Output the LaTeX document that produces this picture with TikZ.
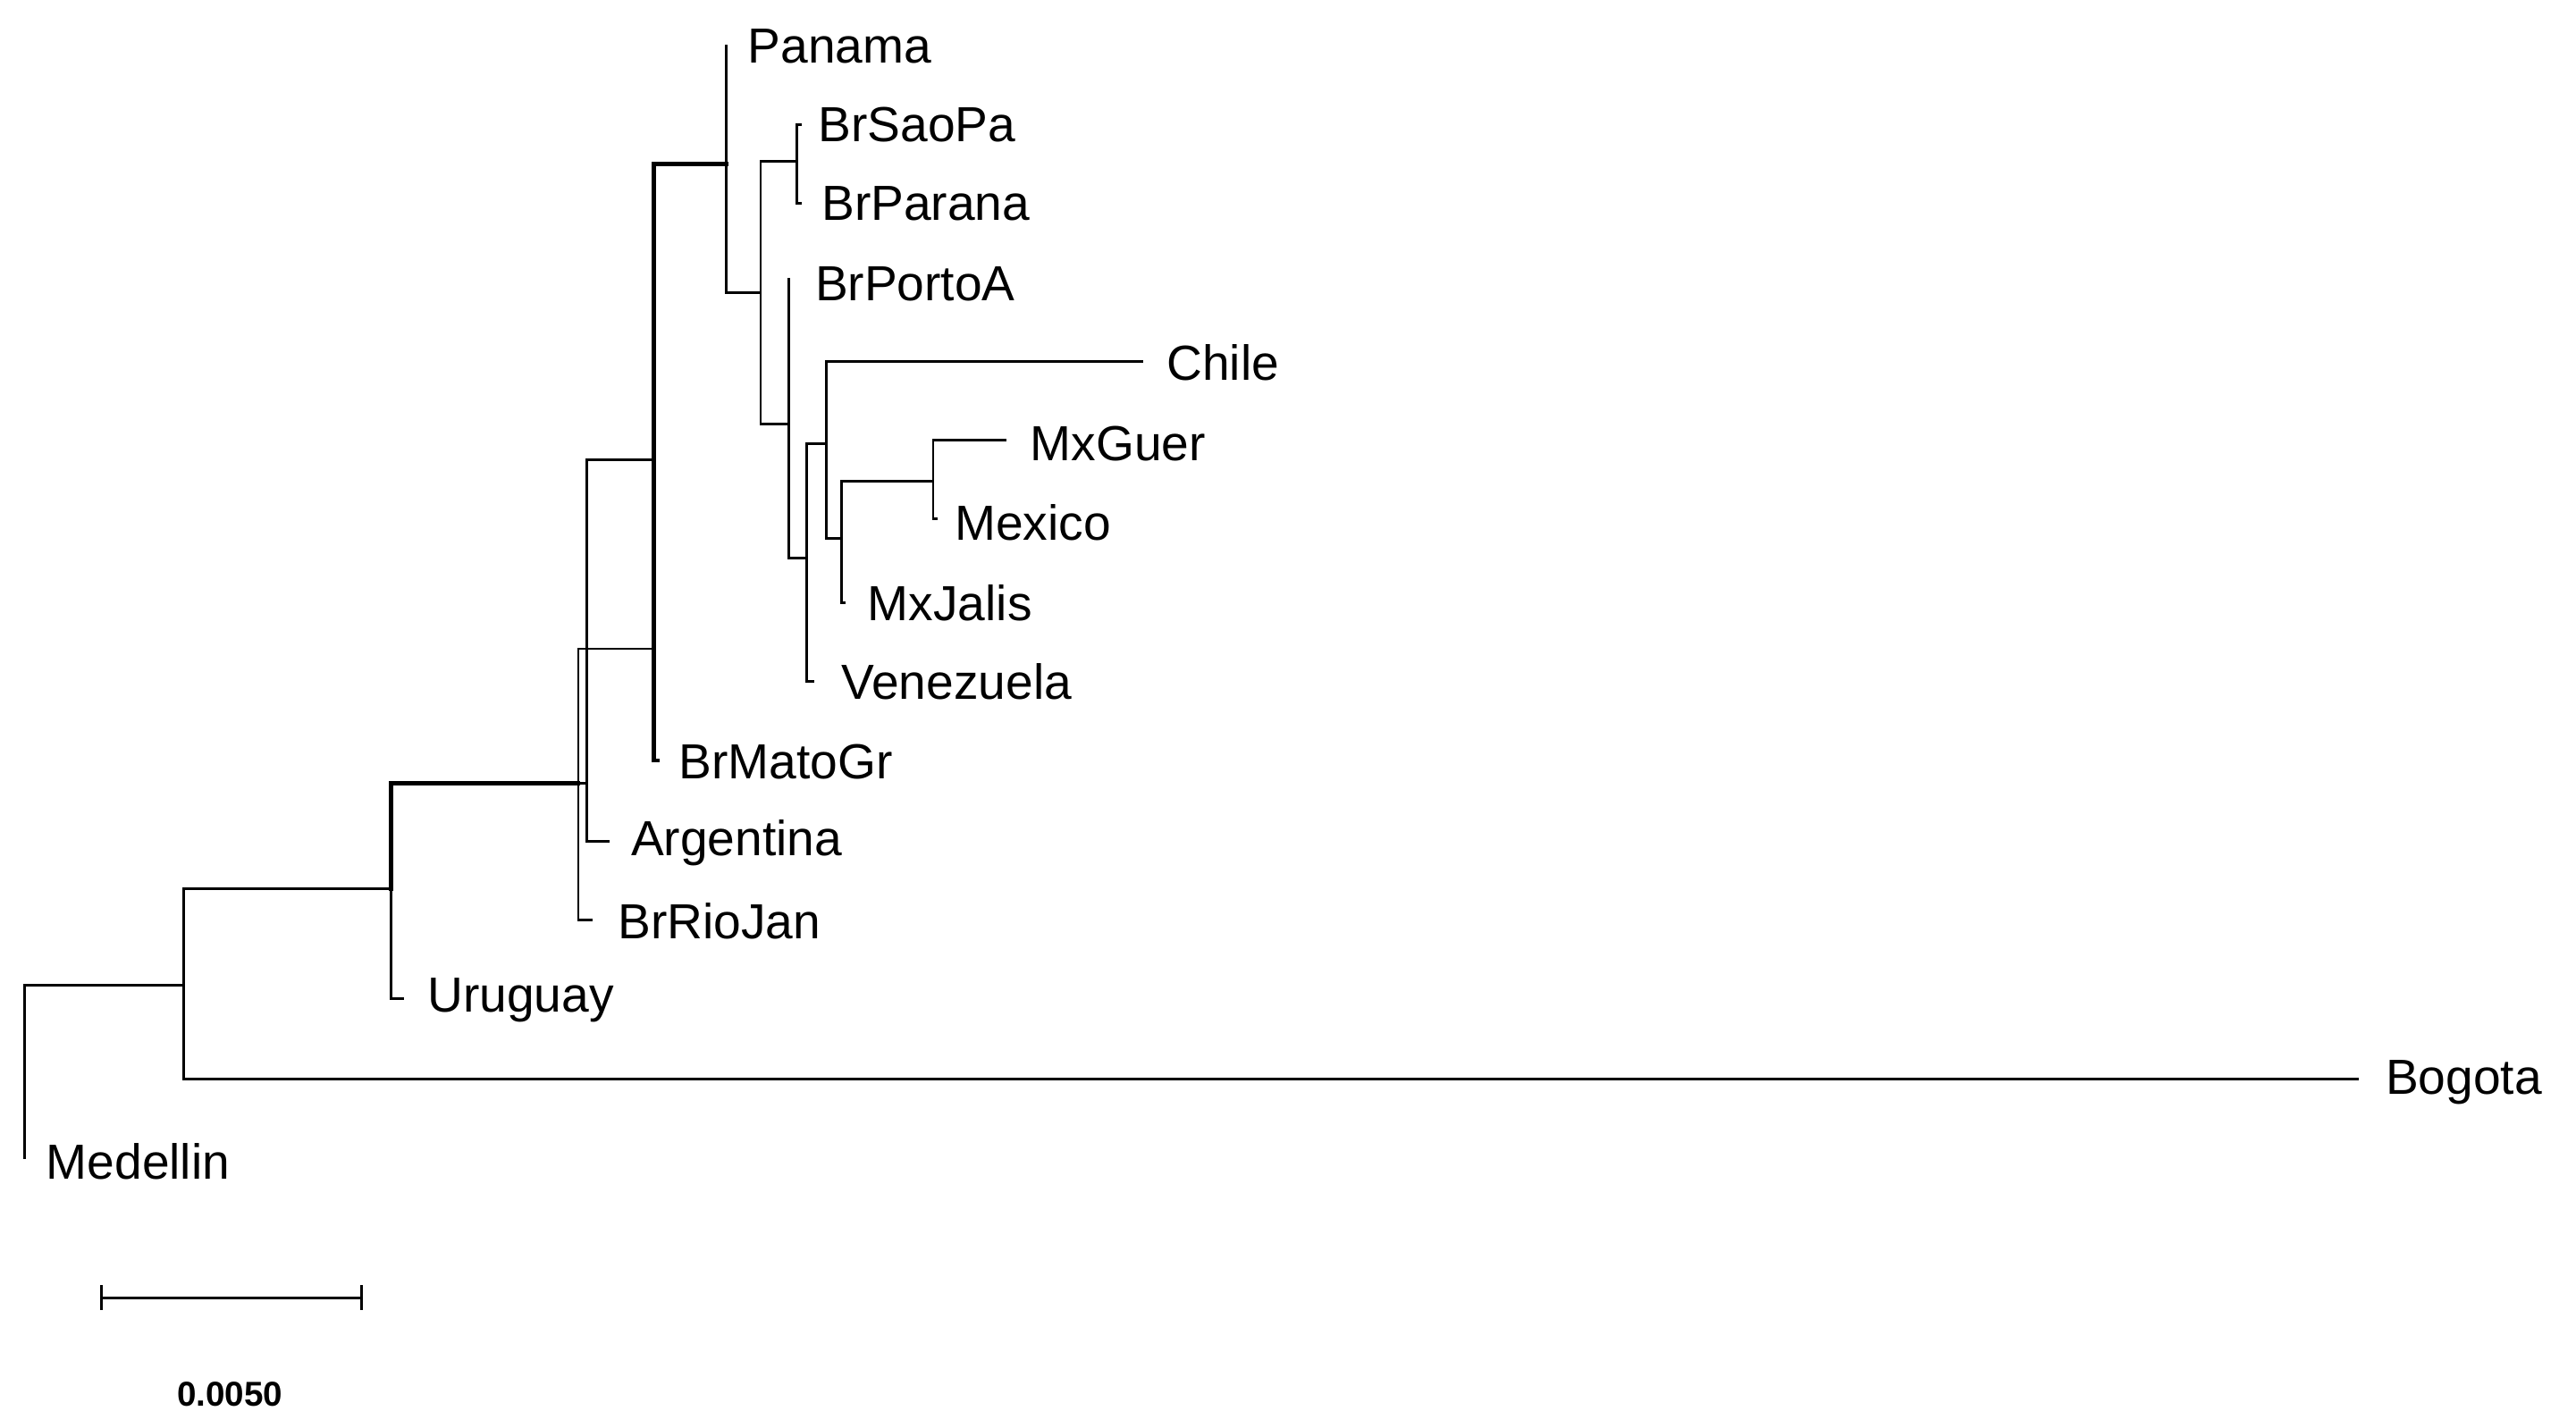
\documentclass[tikz,border=0pt]{standalone}
\usepackage{fontspec}
\setmainfont{Liberation Sans}
\begin{document}
\begin{tikzpicture}[x=1pt,y=-1pt,
  br/.style={line width=1.6pt,line cap=rect},
  thk/.style={line width=2.6pt},
  lab/.style={anchor=west,inner sep=0pt,font=\fontsize{30}{36}\selectfont}]
\useasboundingbox (0,0) rectangle (1568,869.4);
% internal nodes
\coordinate (R) at (15,600); \coordinate (A) at (112,600);
\coordinate (B) at (238,541); \coordinate (C) at (352,477);
\coordinate (D) at (357,477); \coordinate (E) at (398,280);
\coordinate (F) at (442,100); \coordinate (G) at (463,178);
\coordinate (H) at (485,98); \coordinate (I) at (480,258);
\coordinate (J) at (491,340); \coordinate (K) at (503,270);
\coordinate (L) at (512,328); \coordinate (M) at (568,293);
% tips
\coordinate (tMed) at (15,705); \coordinate (tBog) at (1435,657);
\coordinate (tUru) at (245,608); \coordinate (tRio) at (360,560);
\coordinate (tArg) at (370,512); \coordinate (tMat) at (400,463);
\coordinate (tPan) at (442,28); \coordinate (tSao) at (487,76);
\coordinate (tPar) at (487,124); \coordinate (tPor) at (480,170);
\coordinate (tVen) at (495,415); \coordinate (tChi) at (695,220);
\coordinate (tJal) at (514,367); \coordinate (tGue) at (612,268);
\coordinate (tMex) at (570,316);
% branches
\draw[br] (tMed) -- (R) -- (A);
\draw[br] (tBog) -| (A) |- (B);
\draw[br] (tUru) -| (B);
\draw[br,thk] (B) |- (C);
\draw[br] (tRio) -| (C) |- (E |- 0,395);
\draw[br] (C) -- (D);
\draw[br] (tArg) -| (D) |- (E);
\draw[br,thk] (tMat) -| (E) |- (F);
\draw[br] (tPan) -- (F) |- (G);
\draw[br] (G) |- (H); \draw[br] (tSao) -| (H) |- (tPar);
\draw[br] (G) |- (I); \draw[br] (tPor) -- (I) |- (J);
\draw[br] (tVen) -| (J) |- (K);
\draw[br] (tChi) -| (K) |- (L);
\draw[br] (tJal) -| (L) |- (M);
\draw[br] (tGue) -| (M) |- (tMex);
% labels
\node[lab] (nPan) at (455,28) {Panama};
\node[lab] (nSao) at (498,76) {BrSaoPa};
\node[lab] (nPar) at (500,124) {BrParana};
\node[lab] (nPor) at (496,173) {BrPortoA};
\node[lab] (nChi) at (710,221) {Chile};
\node[lab] (nGue) at (627,270) {MxGuer};
\node[lab] (nMex) at (581,318) {Mexico};
\node[lab] (nJal) at (528,367) {MxJalis};
\node[lab] (nVen) at (512,415) {Venezuela};
\node[lab] (nMat) at (413,464) {BrMatoGr};
\node[lab] (nArg) at (384,513) {Argentina};
\node[lab] (nRio) at (376,561) {BrRioJan};
\node[lab] (nUru) at (260,609) {Uruguay};
\node[lab] (nBog) at (1452,659) {Bogota};
\node[lab] (nMed) at (28,707) {Medellin};
% scale bar
\coordinate (s1) at (62,790); \coordinate (s2) at (220,790);
\draw[br] (s1) -- (s2);
\draw[br] ([yshift=-7]s1) -- ([yshift=7]s1);
\draw[br] ([yshift=-7]s2) -- ([yshift=7]s2);
\node[inner sep=0pt,font=\fontsize{21}{25}\bfseries] (sc) at (140,849) {0.0050};
\end{tikzpicture}
\end{document}
